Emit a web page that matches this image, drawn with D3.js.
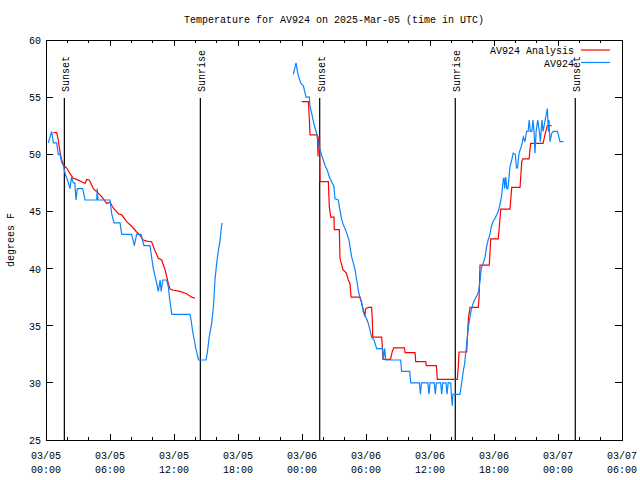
<!DOCTYPE html>
<html><head><meta charset="utf-8">
<script src="https://cdn.jsdelivr.net/npm/d3@7"></script>
<style>
body{margin:0;background:#fff;}
text{font-family:"Liberation Mono","DejaVu Sans Mono",monospace;font-size:10px;fill:#000;}
</style></head>
<body><svg id="c" width="640" height="480"></svg>
<script>
// ---- data (hours since 2025-03-05 00:00 UTC, degrees F); null = gap ----
const analysisHours = [0.69,1.0,1.15,1.31,1.47,1.69,1.94,2.25,2.56,2.87,3.34,3.66,3.81,4.06,4.44,4.9,5.22,5.69,6.0,6.31,6.78,7.1,7.56,8.03,8.5,8.81,9.13,9.44,9.9,10.2,10.53,10.84,11.16,11.47,11.63,11.94,12.56,13.19,13.66,13.97,
  18.0,
  23.97,24.6,24.69,24.75,25.44,25.5,25.56,25.64,25.69,26.47,26.56,26.7,27.0,27.03,27.5,27.56,27.84,28.16,28.34,28.5,28.6,29.44,29.6,29.9,29.95,30.0,30.25,30.53,30.6,30.63,31.47,31.56,31.6,32.3,32.45,32.6,33.6,33.66,34.6,34.66,35.6,35.66,36.6,36.69,38.56,38.65,38.72,39.44,39.5,39.6,39.75,40.53,40.6,40.69,41.56,41.69,42.4,42.5,42.63,43.5,43.66,44.44,44.6,44.7,45.3,45.35,45.44,46.6,46.8,47.0,47.4];
const analysisTemps = [51.9,51.9,51.25,50.2,49.5,49.0,48.8,48.3,47.9,47.8,47.6,47.45,47.8,47.75,47.0,46.6,46.3,45.7,45.8,45.3,44.8,44.7,44.1,43.7,43.2,42.9,42.5,42.4,42.35,41.6,40.9,40.75,39.9,38.7,38.2,38.1,38.0,37.8,37.5,37.4,
  null,
  54.6,54.6,53.1,51.7,51.7,49.8,51.5,51.5,47.6,47.6,45.4,44.5,44.5,43.4,43.4,40.9,39.9,39.6,39.0,38.7,37.5,37.5,36.95,35.8,36.4,36.5,36.6,36.6,35.35,34.0,34.0,32.65,32.06,32.06,32.7,33.06,33.06,32.65,32.65,31.85,31.85,31.5,31.5,30.3,30.3,31.4,32.7,32.7,33.9,35.6,36.6,36.6,37.5,40.3,40.3,42.6,42.6,43.7,45.2,45.2,47.1,47.1,49.35,49.6,49.6,50.2,50.95,50.95,51.8,52.5,52.5];

const obsHours = [0.22,0.53,0.69,1.0,1.15,1.31,1.47,1.63,1.8,1.95,2.1,2.25,2.4,2.56,2.7,2.81,2.94,3.44,3.66,4.75,4.81,4.87,6.0,6.16,6.375,6.94,7.1,8.03,8.28,8.5,8.9,9.19,9.75,9.9,10.06,10.38,10.53,10.7,10.8,10.95,11.3,11.47,11.6,11.8,13.5,13.6,13.75,13.9,14.05,14.2,14.3,15.0,15.12,15.3,15.53,15.7,15.84,16.0,16.15,16.3,16.45,16.53,
  20.0,
  23.19,23.44,23.6,23.75,23.9,24.13,24.25,24.38,24.69,24.75,24.9,25.06,25.22,25.38,25.53,25.69,25.84,26.0,26.16,26.38,26.56,26.78,26.99,27.09,27.4,27.56,27.72,27.88,28.03,28.19,28.4,28.5,28.66,28.81,28.97,29.13,29.28,29.44,29.6,29.75,29.9,30.1,30.25,30.38,30.53,30.75,31.0,31.56,31.62,31.75,31.85,33.25,33.34,34.1,34.2,35.0,35.1,35.2,35.8,35.9,36.0,36.4,36.5,36.6,37.0,37.1,37.2,37.5,37.6,37.7,37.95,38.0,38.09,38.15,38.81,38.97,39.13,39.25,39.38,39.5,39.6,39.75,39.9,40.06,40.2,40.38,40.56,40.7,40.8,41.0,41.16,41.3,41.45,41.6,41.75,41.9,42.1,42.4,42.56,42.72,42.88,42.94,43.0,43.1,43.2,43.3,43.5,43.66,43.8,44.0,44.1,44.2,44.35,44.6,44.75,44.9,45.05,45.2,45.3,45.4,45.55,45.65,45.75,45.84,45.95,46.1,46.25,46.35,46.5,46.6,46.8,47.0,47.1,47.15,47.25,47.4,47.55,47.95,48.19,48.5];
const obsTemps = [51.0,52.0,51.0,51.0,50.0,50.0,49.3,49.0,48.3,47.9,47.5,47.0,48.0,47.5,47.5,46.0,47.0,47.0,46.0,46.0,47.0,46.0,46.0,44.8,44.0,44.0,43.0,43.0,42.0,43.0,43.0,42.0,42.0,41.0,40.0,38.7,38.0,39.0,38.0,39.0,39.0,38.4,37.25,36.0,36.0,35.5,34.5,33.75,33.0,32.4,32.0,32.0,32.6,34.0,35.2,36.7,39.0,40.45,41.5,42.35,43.7,44.0,
  null,
  57.0,58.0,57.1,56.6,56.2,56.0,55.5,55.0,55.0,54.2,53.6,52.9,52.3,51.8,51.0,50.4,49.9,49.5,49.0,48.6,48.0,47.6,47.2,46.1,46.0,45.1,44.3,43.8,43.5,43.1,42.5,41.9,41.0,40.5,39.9,39.0,38.1,37.4,37.0,36.2,35.9,35.5,35.1,34.6,34.0,33.75,33.0,33.0,32.0,33.0,32.0,32.0,31.0,31.0,30.0,30.0,29.0,30.0,30.0,29.0,30.0,30.0,29.0,30.0,30.0,29.0,30.0,30.0,29.0,30.0,30.0,29.0,28.0,29.0,29.0,30.0,31.1,31.7,32.9,34.0,34.9,35.8,36.5,37.0,37.3,37.6,38.0,39.0,40.0,40.5,41.0,41.9,42.5,42.9,43.7,44.1,44.4,45.0,45.6,46.4,47.9,47.9,47.0,48.0,47.0,47.0,48.9,49.5,50.1,50.0,48.8,48.8,50.1,50.8,51.5,51.1,52.0,52.0,53.0,52.0,52.0,53.0,52.0,50.1,52.0,53.0,52.0,51.1,53.0,52.0,53.0,54.0,52.0,53.0,51.1,51.8,52.0,52.0,51.1,51.1];

const sunEventHours = [1.72,14.47,25.66,38.37,49.62];
const sunEventLabels = ["Sunset","Sunrise","Sunset","Sunrise","Sunset"];
const yTicks = [25,30,35,40,45,50,55,60];
const seriesNames = ["AV924 Analysis","AV924"];
const seriesColors = ["#ff0000","#0a84ff"];
const titleText = "Temperature for AV924 on 2025-Mar-05 (time in UTC)";
const yLabel = "degrees F";

// ---- layout ----
const M = {left:46, right:622, top:40, bottom:440};
const t0 = Date.UTC(2025,2,5,0,0);
const toDate = h => new Date(t0 + h*3600000);

const svg = d3.select("#c");
const x = d3.scaleUtc().domain([toDate(0), toDate(54)]).range([M.left, M.right]);
const y = d3.scaleLinear().domain([25,60]).range([M.bottom, M.top]);

// title
svg.append("text").attr("x",(M.left+M.right)/2).attr("y",23).attr("text-anchor","middle").text(titleText);

// y label
svg.append("text").attr("transform",`translate(14,${(M.top+M.bottom)/2}) rotate(-90)`)
  .attr("text-anchor","middle").text(yLabel);

// frame
svg.append("rect").attr("x",M.left).attr("y",M.top).attr("width",M.right-M.left).attr("height",M.bottom-M.top)
  .attr("fill","none").attr("stroke","#000").attr("stroke-width",1).attr("shape-rendering","crispEdges");

// x ticks
const major = x.ticks(d3.utcHour.every(6));
const minor = x.ticks(d3.utcHour.every(2)).filter(d => d.getUTCHours()%6 !== 0);
const tickG = svg.append("g").attr("stroke","#000").attr("shape-rendering","crispEdges");
major.forEach(d=>{
  const px = x(d);
  tickG.append("line").attr("x1",px).attr("x2",px).attr("y1",M.bottom).attr("y2",M.bottom-6);
  tickG.append("line").attr("x1",px).attr("x2",px).attr("y1",M.top).attr("y2",M.top+6);
});
minor.forEach(d=>{
  const px = x(d);
  tickG.append("line").attr("x1",px).attr("x2",px).attr("y1",M.bottom).attr("y2",M.bottom-3);
  tickG.append("line").attr("x1",px).attr("x2",px).attr("y1",M.top).attr("y2",M.top+3);
});
const fmtD = d3.utcFormat("%m/%d"), fmtT = d3.utcFormat("%H:%M");
major.forEach(d=>{
  const px = x(d);
  svg.append("text").attr("x",px).attr("y",459).attr("text-anchor","middle").text(fmtD(d));
  svg.append("text").attr("x",px).attr("y",473).attr("text-anchor","middle").text(fmtT(d));
});

// y ticks
yTicks.forEach(v=>{
  const py = y(v);
  tickG.append("line").attr("x1",M.left).attr("x2",M.left+7).attr("y1",py).attr("y2",py);
  tickG.append("line").attr("x1",M.right).attr("x2",M.right-7).attr("y1",py).attr("y2",py);
  svg.append("text").attr("x",41).attr("y",py+4).attr("text-anchor","end").text(v);
});

// sunrise / sunset markers
const markerTopFrac = 0.855;
sunEventHours.forEach((h,i)=>{
  const px = x(toDate(h));
  svg.append("line").attr("x1",px).attr("x2",px)
    .attr("y1",M.bottom).attr("y2",M.bottom-(M.bottom-M.top)*markerTopFrac)
    .attr("stroke","#000").attr("stroke-width",1.2);
  svg.append("text").attr("transform",`translate(${px+5},${M.bottom-(M.bottom-M.top)*markerTopFrac-6}) rotate(-90)`)
    .attr("text-anchor","start").text(sunEventLabels[i]);
});

// series
const line = d3.line().defined(d=>d[1]!==null).x(d=>x(toDate(d[0]))).y(d=>y(d[1]));
const aData = analysisHours.map((h,i)=>[h,analysisTemps[i]]);
const oData = obsHours.map((h,i)=>[h,obsTemps[i]]);
const plotG = svg.append("g");
plotG.append("path").datum(aData).attr("d",line).attr("fill","none").attr("stroke",seriesColors[0]).attr("stroke-width",1.2);
plotG.append("path").datum(oData).attr("d",line).attr("fill","none").attr("stroke",seriesColors[1]).attr("stroke-width",1.2);

// legend
seriesNames.forEach((n,i)=>{
  const ly = 50 + i*12.5;
  svg.append("text").attr("x",574).attr("y",ly+4).attr("text-anchor","end").text(n);
  svg.append("line").attr("x1",581).attr("x2",610).attr("y1",ly).attr("y2",ly)
    .attr("stroke",seriesColors[i]).attr("stroke-width",1.2);
});
</script></body></html>
